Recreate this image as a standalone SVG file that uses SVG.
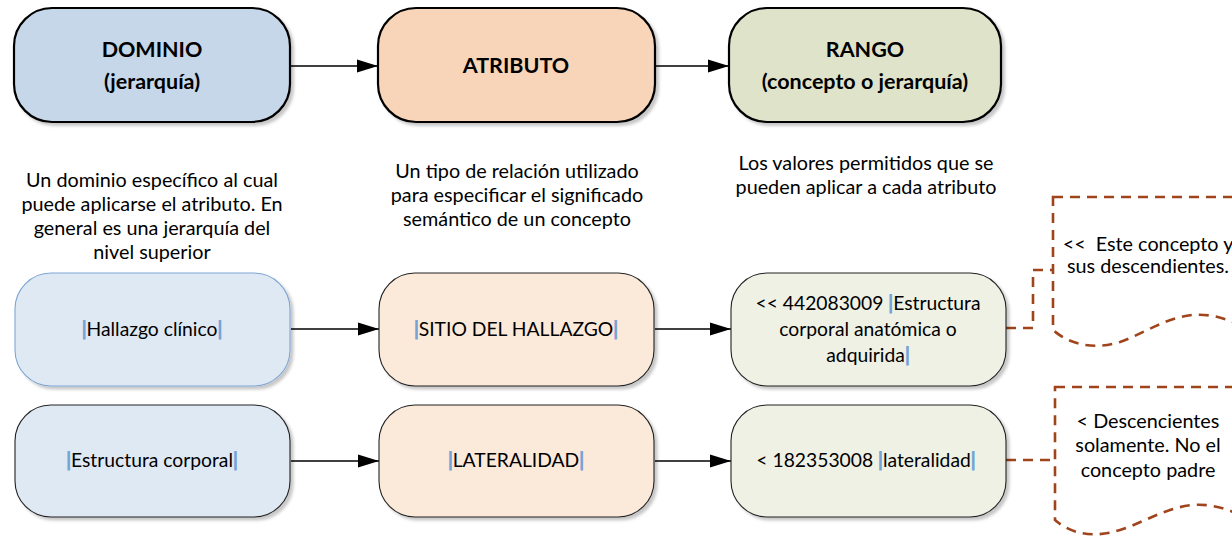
<svg xmlns="http://www.w3.org/2000/svg" width="1232" height="536" viewBox="0 0 1232 536">
<defs>
<filter id="sh" x="-10%" y="-10%" width="130%" height="130%">
<feDropShadow dx="3" dy="3" stdDeviation="1.5" flood-color="#000" flood-opacity="0.22"/>
</filter>
<marker id="ah" markerUnits="userSpaceOnUse" markerWidth="22" markerHeight="14" refX="21" refY="7" orient="auto">
<path d="M0,0.5 L21,7 L0,13.5 Z" fill="#000"/>
</marker>
<linearGradient id="ny" x1="0" y1="0" x2="0" y2="1">
<stop offset="0" stop-color="#fffee8"/>
<stop offset="1" stop-color="#fdf6c6"/>
</linearGradient>
</defs>
<style>
text{font-family:Lato,"Open Sans","Liberation Sans",sans-serif;fill:#000;text-anchor:middle}
.t{font-size:21.5px;font-weight:bold}
.c{font-size:19.8px}
.b{font-size:19.3px}
.p{fill:#74a3d6;stroke:#74a3d6;stroke-width:1.1}
.top{stroke:#000;stroke-width:2.2}
.row{stroke:#222;stroke-width:1.1}
.conn{stroke:#000;stroke-width:1.3;fill:none;marker-end:url(#ah)}
.dash{stroke:#a0441c;stroke-width:2.6;fill:none;stroke-dasharray:10 7}
</style>

<g id="connectors">
<line class="conn" x1="291" y1="66" x2="378" y2="66"/>
<line class="conn" x1="656" y1="66" x2="729" y2="66"/>
<line class="conn" x1="291" y1="329" x2="379" y2="329"/>
<line class="conn" x1="655" y1="329" x2="731" y2="329"/>
<line class="conn" x1="291" y1="461" x2="379" y2="461"/>
<line class="conn" x1="655" y1="461" x2="731" y2="461"/>
<path class="dash" d="M1006,328 H1033 V270 H1053" stroke-dasharray="26 10 40 10 40 8 30"/>
<path class="dash" d="M1006,460 H1055" stroke-dasharray="18 10 40"/>
</g>

<g id="dominio">
<rect class="top" x="14" y="8" width="276" height="114" rx="38" fill="#c5d7e9" filter="url(#sh)"/>
<text class="t" x="152" y="57">DOMINIO</text>
<text class="t" x="152" y="89">(jerarquía)</text>
</g>
<g id="atributo">
<rect class="top" x="378" y="8" width="277" height="114" rx="38" fill="#f8d5b8" filter="url(#sh)"/>
<text class="t" x="516" y="73">ATRIBUTO</text>
</g>
<g id="rango">
<rect class="top" x="729" y="8" width="272" height="114" rx="38" fill="#dfe3ca" filter="url(#sh)"/>
<text class="t" x="865" y="57">RANGO</text>
<text class="t" x="865" y="89">(concepto o jerarquía)</text>
</g>

<g id="desc-dominio">
<text class="c" x="152" y="187">Un dominio específico al cual</text>
<text class="c" x="152" y="211">puede aplicarse el atributo. En</text>
<text class="c" x="152" y="235">general es una jerarquía del</text>
<text class="c" x="152" y="259">nivel superior</text>
</g>
<g id="desc-atributo">
<text class="c" x="517" y="178">Un tipo de relación utilizado</text>
<text class="c" x="517" y="202">para especificar el significado</text>
<text class="c" x="517" y="226">semántico de un concepto</text>
</g>
<g id="desc-rango">
<text class="c" x="866" y="170">Los valores permitidos que se</text>
<text class="c" x="866" y="194">pueden aplicar a cada atributo</text>
</g>

<g id="hallazgo">
<rect x="15" y="273" width="275" height="113" rx="36" fill="#dfe9f4" stroke="#7ea6d3" stroke-width="1.1" filter="url(#sh)"/>
<text class="b" x="152" y="336"><tspan class="p">|</tspan>Hallazgo clínico<tspan class="p">|</tspan></text>
</g>
<g id="sitio">
<rect class="row" x="379" y="273" width="275" height="113" rx="36" fill="#fbe9da" filter="url(#sh)"/>
<text class="b" x="516" y="336"><tspan class="p">|</tspan>SITIO DEL HALLAZGO<tspan class="p">|</tspan></text>
</g>
<g id="rango1">
<rect class="row" x="731" y="273" width="275" height="113" rx="36" fill="#eff1e5" filter="url(#sh)"/>
<text class="b" x="868" y="310">&lt;&lt; 442083009 <tspan class="p">|</tspan>Estructura</text>
<text class="b" x="868" y="336">corporal anatómica o</text>
<text class="b" x="868" y="362">adquirida<tspan class="p">|</tspan></text>
</g>

<g id="estructura">
<rect class="row" x="15" y="405" width="275" height="112" rx="36" fill="#dfe9f4" filter="url(#sh)"/>
<text class="b" x="152" y="467"><tspan class="p">|</tspan>Estructura corporal<tspan class="p">|</tspan></text>
</g>
<g id="lateralidad">
<rect class="row" x="379" y="405" width="275" height="112" rx="36" fill="#fbe9da" filter="url(#sh)"/>
<text class="b" x="516" y="467"><tspan class="p">|</tspan>LATERALIDAD<tspan class="p">|</tspan></text>
</g>
<g id="rango2">
<rect class="row" x="731" y="405" width="275" height="112" rx="36" fill="#eff1e5" filter="url(#sh)"/>
<text class="b" x="866" y="467">&lt; 182353008 <tspan class="p">|</tspan>lateralidad<tspan class="p">|</tspan></text>
</g>

<g id="nota1">
<path class="dash" fill="url(#ny)" d="M1053,197 H1250 V330 C1235,322 1215,313 1192,315 C1165,318 1145,333 1120,342 C1095,350 1070,345 1053,330 Z"/>
<text class="c" x="1148" y="251" xml:space="preserve">&lt;&lt;  Este concepto y</text>
<text class="c" x="1148" y="273">sus descendientes.</text>
</g>
<g id="nota2">
<path class="dash" fill="url(#ny)" d="M1055,387 H1250 V520 C1235,512 1215,503 1192,505 C1165,508 1145,522 1120,530 C1095,538 1072,535 1055,520 Z"/>
<text class="c" x="1148" y="428">&lt; Descencientes</text>
<text class="c" x="1148" y="452">solamente. No el</text>
<text class="c" x="1148" y="477">concepto padre</text>
</g>
</svg>
